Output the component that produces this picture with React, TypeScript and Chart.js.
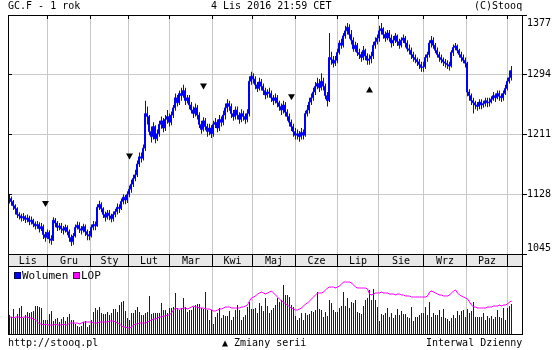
import React, { useEffect, useRef } from "react";
import { Chart, registerables } from "chart.js";
Chart.register(...registerables);

const FONT = '"DejaVu Sans Mono", monospace';
const BLUE = "#0000ff";
const MAGENTA = "#ff00ff";
const GRID = "#c8c8c8";
const X_MIN = -0.75;
const X_MAX = 256.75;

const monthLabels = ["Lis", "Gru", "Sty", "Lut", "Mar", "Kwi", "Maj", "Cze", "Lip", "Sie", "Wrz", "Paz"];
const monthStarts = [19, 40.5, 59.5, 80, 101.5, 121.5, 143, 164, 184.5, 207, 228.5, 249];
const priceTicks = [1045, 1128, 1211, 1294, 1377];

const close = [
  1122, 1118, 1112, 1108, 1100, 1098, 1095, 1097, 1093, 1095,
  1090, 1092, 1087, 1084, 1086, 1080, 1083, 1072, 1068, 1075,
  1066, 1064, 1092, 1088, 1082, 1084, 1080, 1078, 1082, 1076,
  1068, 1062, 1070, 1082, 1085, 1080, 1078, 1083, 1076, 1072,
  1070, 1082, 1086, 1084, 1110, 1114, 1108, 1100, 1096, 1102,
  1098, 1094, 1100, 1104, 1110, 1108, 1118, 1124, 1120, 1128,
  1135, 1142, 1150, 1155, 1170, 1180, 1178, 1192, 1240, 1236,
  1215, 1208, 1222, 1205, 1212, 1225, 1230, 1220, 1232, 1236,
  1228, 1238, 1248, 1262, 1255, 1268, 1265, 1272, 1258, 1262,
  1252, 1245, 1240, 1248, 1238, 1225, 1218, 1230, 1222, 1215,
  1220, 1212, 1225, 1228, 1220, 1232, 1228, 1238, 1248, 1254,
  1250, 1240, 1236, 1245, 1238, 1232, 1240, 1236, 1232, 1240,
  1285, 1292, 1288, 1280, 1275, 1284, 1278, 1272, 1266, 1270,
  1268, 1262, 1258, 1262, 1255, 1250, 1245, 1252, 1242, 1236,
  1228, 1222, 1215, 1210, 1212, 1208, 1214, 1210, 1240, 1245,
  1256, 1262, 1270, 1278, 1282, 1276, 1285, 1278, 1265, 1258,
  1318, 1315, 1310, 1314, 1325, 1338, 1335, 1348, 1355, 1360,
  1350, 1342, 1330, 1335, 1325, 1322, 1318, 1328, 1320, 1314,
  1316, 1320, 1335, 1340, 1345, 1355, 1358, 1350, 1345, 1352,
  1345, 1338, 1342, 1348, 1340, 1335, 1342, 1345, 1338, 1330,
  1328, 1322, 1318, 1315, 1312, 1308, 1304, 1305, 1318, 1322,
  1338, 1342, 1335, 1328, 1322, 1318, 1315, 1312, 1310, 1308,
  1306, 1325, 1332, 1334, 1328, 1322, 1318, 1314, 1310, 1270,
  1265, 1258, 1255, 1252, 1250, 1256, 1252, 1254, 1258, 1255,
  1256, 1260, 1265, 1262, 1268, 1264, 1262, 1268, 1275, 1285,
  1290, 1300,
];

const high = [
  1128, 1125, 1120, 1114, 1110, 1103, 1101, 1102, 1099, 1100,
  1098, 1097, 1094, 1090, 1091, 1089, 1088, 1086, 1076, 1079,
  1078, 1071, 1096, 1095, 1091, 1088, 1088, 1084, 1086, 1085,
  1079, 1072, 1074, 1086, 1090, 1089, 1084, 1087, 1086, 1079,
  1077, 1086, 1091, 1090, 1114, 1119, 1117, 1110, 1104, 1106,
  1106, 1101, 1104, 1108, 1115, 1114, 1122, 1128, 1127, 1132,
  1140, 1148, 1155, 1162, 1175, 1186, 1186, 1197, 1258, 1250,
  1238, 1222, 1228, 1224, 1218, 1230, 1236, 1234, 1238, 1245,
  1240, 1243, 1252, 1268, 1266, 1272, 1276, 1280, 1276, 1266,
  1266, 1256, 1250, 1254, 1252, 1242, 1230, 1235, 1234, 1226,
  1226, 1224, 1230, 1234, 1232, 1238, 1236, 1244, 1254, 1260,
  1258, 1254, 1245, 1250, 1250, 1242, 1246, 1244, 1240, 1246,
  1292, 1298, 1296, 1292, 1284, 1290, 1288, 1282, 1276, 1274,
  1276, 1272, 1266, 1268, 1266, 1258, 1254, 1258, 1256, 1246,
  1240, 1232, 1226, 1220, 1218, 1216, 1220, 1218, 1244, 1252,
  1262, 1268, 1276, 1284, 1290, 1288, 1296, 1290, 1282, 1270,
  1352, 1326, 1320, 1320, 1330, 1342, 1344, 1352, 1362, 1366,
  1364, 1356, 1346, 1340, 1338, 1330, 1326, 1334, 1330, 1324,
  1322, 1326, 1340, 1346, 1350, 1362, 1366, 1360, 1354, 1356,
  1356, 1350, 1348, 1352, 1350, 1344, 1346, 1350, 1348, 1342,
  1336, 1332, 1326, 1322, 1318, 1316, 1312, 1312, 1322, 1326,
  1342, 1348, 1346, 1338, 1332, 1326, 1322, 1318, 1316, 1314,
  1312, 1328, 1336, 1338, 1336, 1330, 1326, 1322, 1318, 1312,
  1274, 1268, 1262, 1258, 1256, 1260, 1260, 1258, 1262, 1262,
  1262, 1264, 1270, 1268, 1272, 1272, 1268, 1272, 1280, 1290,
  1300, 1306,
];

const low = [
  1115, 1112, 1106, 1100, 1095, 1093, 1090, 1091, 1088, 1089,
  1085, 1086, 1082, 1079, 1080, 1075, 1077, 1066, 1062, 1066,
  1060, 1058, 1063, 1082, 1077, 1078, 1074, 1072, 1075, 1071,
  1062, 1056, 1058, 1068, 1079, 1074, 1072, 1075, 1070, 1064,
  1064, 1068, 1078, 1078, 1083, 1106, 1103, 1095, 1090, 1093,
  1092, 1089, 1090, 1096, 1100, 1102, 1106, 1114, 1114, 1116,
  1124, 1130, 1138, 1146, 1152, 1166, 1172, 1175, 1188, 1225,
  1210, 1200, 1204, 1199, 1202, 1208, 1219, 1214, 1216, 1226,
  1222, 1224, 1234, 1244, 1250, 1252, 1258, 1262, 1252, 1254,
  1246, 1240, 1234, 1236, 1232, 1220, 1212, 1215, 1217, 1208,
  1210, 1206, 1208, 1220, 1214, 1216, 1222, 1224, 1232, 1242,
  1244, 1234, 1230, 1232, 1232, 1226, 1228, 1230, 1226, 1228,
  1236, 1280, 1282, 1274, 1270, 1272, 1272, 1266, 1260, 1262,
  1262, 1256, 1252, 1254, 1249, 1244, 1238, 1240, 1236, 1230,
  1222, 1216, 1208, 1204, 1204, 1201, 1204, 1204, 1208, 1236,
  1240, 1252, 1258, 1266, 1274, 1270, 1272, 1272, 1260, 1250,
  1256, 1308, 1304, 1306, 1310, 1322, 1330, 1332, 1344, 1350,
  1344, 1336, 1326, 1326, 1320, 1316, 1312, 1314, 1314, 1308,
  1308, 1310, 1316, 1330, 1336, 1340, 1350, 1344, 1340, 1342,
  1340, 1332, 1334, 1338, 1334, 1330, 1332, 1338, 1332, 1326,
  1322, 1316, 1312, 1310, 1306, 1302, 1298, 1298, 1302, 1312,
  1318, 1332, 1330, 1324, 1318, 1312, 1310, 1306, 1304, 1302,
  1300, 1304, 1320, 1328, 1324, 1318, 1312, 1310, 1304, 1264,
  1258, 1252, 1240, 1246, 1244, 1246, 1246, 1248, 1250, 1249,
  1250, 1254, 1258, 1256, 1260, 1258, 1256, 1258, 1266, 1272,
  1282, 1286,
];

// Wolumen (volume) and LOP (open interest) in panel units
const volume = [
  19, 17, 25, 16, 20, 26, 28, 16, 19, 22,
  21, 22, 23, 28, 28, 27, 26, 14, 14, 14,
  20, 23, 13, 15, 16, 12, 15, 17, 13, 17,
  20, 14, 14, 10, 8, 7, 8, 12, 13, 7,
  9, 14, 22, 26, 24, 27, 21, 20, 20, 22,
  19, 21, 25, 25, 22, 29, 32, 33, 23, 16,
  14, 21, 21, 24, 27, 22, 19, 19, 21, 22,
  38, 20, 21, 21, 21, 21, 31, 24, 24, 21,
  26, 26, 27, 41, 26, 24, 26, 36, 27, 22,
  24, 24, 27, 29, 30, 30, 26, 25, 42, 24,
  14, 24, 10, 17, 21, 26, 16, 19, 18, 18,
  23, 14, 17, 24, 29, 24, 14, 17, 19, 27,
  32, 25, 25, 26, 21, 31, 28, 23, 36, 28,
  21, 24, 26, 29, 36, 32, 34, 49, 39, 39,
  37, 29, 27, 18, 14, 16, 21, 14, 21, 19,
  20, 23, 22, 24, 42, 25, 24, 17, 22, 18,
  34, 31, 24, 22, 22, 26, 28, 42, 28, 36,
  26, 32, 31, 34, 22, 21, 20, 28, 34, 36,
  44, 34, 45, 34, 27, 13, 20, 19, 21, 26,
  17, 21, 16, 19, 25, 19, 23, 20, 20, 17,
  16, 27, 13, 17, 17, 19, 21, 21, 27, 19,
  32, 17, 21, 19, 19, 24, 17, 25, 16, 15,
  13, 16, 19, 16, 23, 19, 23, 24, 17, 25,
  21, 23, 32, 17, 17, 17, 17, 21, 14, 18,
  16, 18, 15, 17, 24, 17, 16, 26, 14, 26,
  28, 30,
];

const lop = [
  17, 17, 16, 17, 17, 17, 16, 17, 17, 17,
  16, 16, 15, 14, 12, 10, 10, 9, 10, 9,
  9, 9, 9, 10, 9, 9, 9, 10, 9, 9,
  11, 11, 11, 11, 11, 10, 11, 12, 12, 12,
  12, 12, 11, 11, 11, 12, 12, 12, 12, 12,
  13, 13, 13, 12, 11, 10, 8, 7, 7, 6,
  6, 7, 9, 10, 10, 11, 11, 11, 11, 12,
  13, 14, 15, 15, 16, 17, 17, 18, 18, 19,
  19, 21, 24, 26, 25, 25, 25, 26, 26, 25,
  26, 27, 28, 27, 27, 26, 26, 26, 25, 25,
  25, 24, 23, 23, 24, 25, 25, 26, 27, 27,
  27, 26, 26, 26, 26, 26, 27, 27, 28, 29,
  33, 36, 37, 38, 40, 41, 42, 41, 40, 41,
  42, 43, 41, 39, 37, 35, 33, 32, 30, 29,
  27, 26, 25, 24, 24, 25, 26, 28, 30, 31,
  33, 35, 37, 39, 41, 41, 41, 42, 44, 46,
  47, 47, 47, 46, 47, 48, 50, 52, 52, 52,
  52, 51, 49, 47, 46, 46, 46, 46, 46, 45,
  40, 39, 40, 41, 41, 41, 42, 41, 41, 41,
  40, 40, 40, 39, 40, 40, 39, 39, 38, 38,
  38, 37, 37, 37, 37, 37, 37, 37, 37, 38,
  42, 43, 42, 41, 40, 39, 39, 38, 38, 38,
  39, 41, 43, 44, 41, 39, 38, 37, 36, 35,
  32, 29, 27, 27, 26, 26, 26, 26, 26, 27,
  27, 27, 28, 28, 28, 29, 28, 29, 29, 30,
  32, 33,
];

// contract roll-over markers ("Zmiany serii")
const rollIdx = [18, 60, 97, 141, 180];
const rollLevel = [1116, 1182, 1279, 1264, 1272];
const rollDir = ["down", "down", "down", "down", "up"];

const mainPlugin = {
  id: "stooqMain",
  afterDraw(chart: any) {
    const { ctx, chartArea: a, scales } = chart;
    const xs = scales.x;
    const ys = scales.y;
    const H = chart.height;
    ctx.save();
    ctx.fillStyle = "#e8e8e8";
    ctx.fillRect(a.left, a.bottom, a.right - a.left, H - a.bottom);
    ctx.strokeStyle = "#000";
    ctx.lineWidth = 1;
    ctx.beginPath();
    const L = a.left + 0.5;
    const R = a.right - 0.5;
    ctx.moveTo(L, a.top); ctx.lineTo(L, H);
    ctx.moveTo(R, a.top); ctx.lineTo(R, H);
    ctx.moveTo(a.left, a.top + 0.5); ctx.lineTo(a.right, a.top + 0.5);
    ctx.moveTo(a.left, a.bottom + 0.5); ctx.lineTo(a.right, a.bottom + 0.5);
    ctx.moveTo(a.left, H - 0.5); ctx.lineTo(a.right, H - 0.5);
    monthStarts.forEach((m) => {
      const px = Math.round(xs.getPixelForValue(m) - 0.5) + 0.5;
      ctx.moveTo(px, a.top); ctx.lineTo(px, a.top + 4);
      ctx.moveTo(px, a.bottom); ctx.lineTo(px, H);
    });
    priceTicks.forEach((t) => {
      const py = Math.round(ys.getPixelForValue(t) - 0.5) + 0.5;
      ctx.moveTo(a.left, py); ctx.lineTo(a.left + 4, py);
      ctx.moveTo(a.right, py); ctx.lineTo(a.right + 4, py);
    });
    ctx.stroke();
    ctx.fillStyle = "#000";
    ctx.font = "10px " + FONT;
    ctx.textAlign = "left";
    ctx.textBaseline = "middle";
    priceTicks.forEach((t) => {
      let py = ys.getPixelForValue(t);
      py = Math.max(py, a.top + 8);
      py = Math.min(py, a.bottom - 6);
      ctx.fillText(String(t), a.right + 4, py);
    });
    ctx.textAlign = "center";
    const bounds = [X_MIN, ...monthStarts];
    monthLabels.forEach((lab, k) => {
      const x0 = xs.getPixelForValue(bounds[k]);
      const x1 = xs.getPixelForValue(bounds[k + 1]);
      ctx.fillText(lab, (x0 + x1) / 2, (a.bottom + H) / 2 + 0.5);
    });
    ctx.restore();
  },
};

const volPlugin = {
  id: "stooqVol",
  afterDraw(chart: any) {
    const { ctx, chartArea: a } = chart;
    ctx.save();
    ctx.strokeStyle = "#000";
    ctx.lineWidth = 1;
    ctx.beginPath();
    ctx.moveTo(a.left + 0.5, 0); ctx.lineTo(a.left + 0.5, a.bottom + 1);
    ctx.moveTo(a.right - 0.5, 0); ctx.lineTo(a.right - 0.5, a.bottom + 1);
    ctx.moveTo(a.left, a.bottom + 0.5); ctx.lineTo(a.right, a.bottom + 0.5);
    ctx.stroke();
    ctx.restore();
  },
};

const txt = (extra: React.CSSProperties): React.CSSProperties => ({
  position: "absolute",
  fontFamily: FONT,
  fontSize: 10,
  lineHeight: "12px",
  whiteSpace: "pre",
  color: "#000",
  ...extra,
});

export default function App() {
  const mainRef = useRef<HTMLCanvasElement>(null);
  const volRef = useRef<HTMLCanvasElement>(null);

  useEffect(() => {
    const idx = close.map((_, i) => i);
    const c1 = new Chart(mainRef.current as HTMLCanvasElement, {
      type: "bar",
      data: {
        datasets: [
          {
            type: "line",
            data: rollIdx.map((v, k) => ({ x: v, y: rollLevel[k] })),
            showLine: false,
            pointStyle: "triangle",
            pointRadius: 4,
            pointBackgroundColor: "#000",
            pointBorderColor: "#000",
            pointBorderWidth: 0,
            pointRotation: (c: any) => (rollDir[c.dataIndex] === "down" ? 180 : 0),
            order: 0,
          } as any,
          {
            type: "line",
            data: idx.map((i) => ({ x: i, y: close[i] })),
            stepped: "middle",
            borderColor: BLUE,
            borderWidth: 1,
            pointRadius: 0,
            order: 1,
          } as any,
          {
            type: "bar",
            data: idx.map((i) => ({ x: i, y: [low[i], high[i]] })),
            backgroundColor: BLUE,
            borderWidth: 0,
            barThickness: 1,
            inflateAmount: 0,
            order: 2,
          } as any,
        ],
      },
      options: {
        responsive: false,
        animation: false,
        devicePixelRatio: 1,
        layout: { padding: { left: 8, top: 15, right: 0, bottom: 0 } },
        plugins: { legend: { display: false }, tooltip: { enabled: false } },
        scales: {
          x: {
            type: "linear",
            min: X_MIN,
            max: X_MAX,
            offset: false,
            afterBuildTicks: (s: any) => { s.ticks = monthStarts.map((v) => ({ value: v })); },
            afterFit: (s: any) => { s.height = 13; },
            grid: { color: GRID, drawTicks: false, offset: false },
            border: { display: false },
            ticks: { display: false },
          },
          y: {
            type: "linear",
            position: "right",
            min: 1045,
            max: 1377,
            afterBuildTicks: (s: any) => { s.ticks = priceTicks.map((v) => ({ value: v })); },
            afterFit: (s: any) => { s.width = 37; },
            grid: { color: GRID, drawTicks: false },
            border: { display: false },
            ticks: { display: false },
          },
        },
      } as any,
      plugins: [mainPlugin],
    });

    const c2 = new Chart(volRef.current as HTMLCanvasElement, {
      type: "bar",
      data: {
        datasets: [
          {
            type: "line",
            data: idx.map((i) => ({ x: i, y: lop[i] })),
            borderColor: MAGENTA,
            borderWidth: 1,
            pointRadius: 0,
            order: 1,
          } as any,
          {
            type: "bar",
            data: idx.map((i) => ({ x: i, y: volume[i] })),
            backgroundColor: BLUE,
            borderWidth: 0,
            barThickness: 1,
            inflateAmount: 0,
            order: 2,
          } as any,
        ],
      },
      options: {
        responsive: false,
        animation: false,
        devicePixelRatio: 1,
        layout: { padding: { left: 8, top: 0, right: 0, bottom: 16 } },
        plugins: { legend: { display: false }, tooltip: { enabled: false } },
        scales: {
          x: {
            type: "linear",
            min: X_MIN,
            max: X_MAX,
            offset: false,
            afterBuildTicks: (s: any) => { s.ticks = monthStarts.map((v) => ({ value: v })); },
            afterFit: (s: any) => { s.height = 0; },
            grid: { color: GRID, drawTicks: false, offset: false },
            border: { display: false },
            ticks: { display: false },
          },
          y: {
            type: "linear",
            position: "right",
            min: 0,
            max: 67,
            afterFit: (s: any) => { s.width = 37; },
            grid: { display: false, drawTicks: false },
            border: { display: false },
            ticks: { display: false },
          },
        },
      } as any,
      plugins: [volPlugin],
    });

    return () => {
      c1.destroy();
      c2.destroy();
    };
  }, []);

  return (
    <div style={{ position: "absolute", left: 0, top: 0, width: 560, height: 350, background: "#fff", overflow: "hidden" }}>
      <canvas ref={mainRef} width={560} height={267} style={{ position: "absolute", left: 0, top: 0 }} />
      <canvas ref={volRef} width={560} height={83} style={{ position: "absolute", left: 0, top: 267 }} />
      <div style={txt({ left: 8, top: 0 })}>GC.F - 1 rok</div>
      <div style={txt({ left: 211, top: 0 })}>4 Lis 2016 21:59 CET</div>
      <div style={txt({ left: 474, top: 0 })}>(C)Stooq</div>
      <div style={{ position: "absolute", left: 14, top: 272, width: 5, height: 5, background: BLUE, border: "1px solid #000060" }} />
      <div style={txt({ left: 22, top: 269, fontSize: 11, lineHeight: "13px" })}>Wolumen</div>
      <div style={{ position: "absolute", left: 73, top: 272, width: 5, height: 5, background: MAGENTA, border: "1px solid #600060" }} />
      <div style={txt({ left: 81, top: 269, fontSize: 11, lineHeight: "13px" })}>LOP</div>
      <div style={txt({ left: 8, top: 337 })}>http://stooq.pl</div>
      <div style={txt({ left: 222, top: 337 })}>▲ Zmiany serii</div>
      <div style={txt({ left: 426, top: 337 })}>Interwal Dzienny</div>
    </div>
  );
}
